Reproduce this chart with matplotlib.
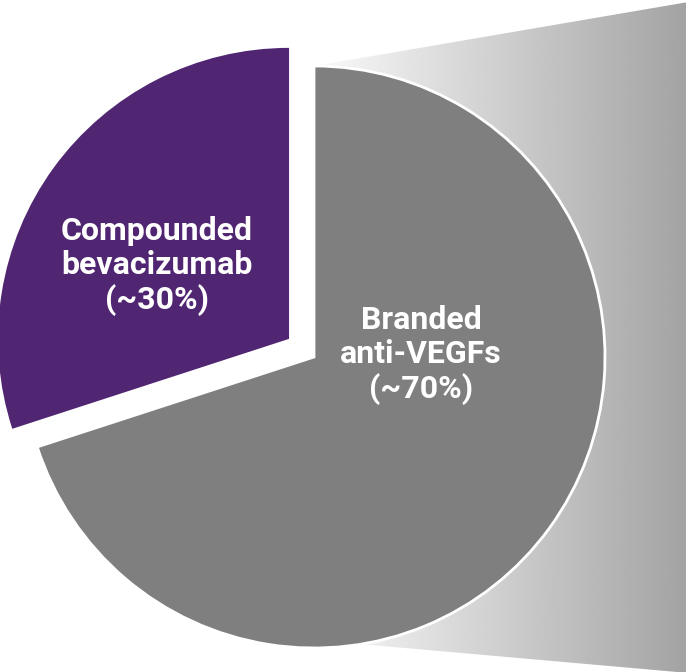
import matplotlib
matplotlib.use("Agg")
import matplotlib.pyplot as plt
import numpy as np
from matplotlib.patches import Polygon

# Chart data
labels = ["Branded\nanti-VEGFs\n(~70%)", "Compounded\nbevacizumab\n(~30%)"]
shares = [70, 30]
colors = ["#7f7f7f", "#502672"]
explode = [0, 0.106]

# work in units of the pie radius (291 px)
R = 291.0
W, H = 686, 672


def px(x, y):
    # image pixel coordinates -> data coordinates
    return x / R, (H - y) / R


fig = plt.figure(figsize=(W / 100, H / 100), dpi=100)
ax = fig.add_axes([0, 0, 1, 1])
ax.set_xlim(0, W / R)
ax.set_ylim(0, H / R)
ax.axis("off")

# grey gradient "callout" behind the pie
poly_pts = [px(314, 66), px(700, 0), px(700, 674), px(314, 640)]
poly = Polygon(poly_pts, closed=True, facecolor="none", edgecolor="none")
ax.add_patch(poly)
grad = np.linspace(250, 160, 256)[None, :] / 255.0
x0, y0 = px(314, 672)
x1, y1 = px(700, 0)
img = ax.imshow(grad, cmap="gray", vmin=0, vmax=1, aspect="auto",
                extent=[x0, x1, y0, y1], zorder=1)
img.set_clip_path(poly)

cx, cy = px(314, 357)
wedges, _ = ax.pie(shares, startangle=90, counterclock=False, radius=1.0,
                   center=(cx, cy), explode=explode, colors=colors,
                   wedgeprops=dict(linewidth=0))
for w in wedges:
    w.set_zorder(3)
wedges[0].set_edgecolor("white")
wedges[0].set_linewidth(2.0)

ax.set_xlim(0, W / R)
ax.set_ylim(0, H / R)
ax.set_aspect("auto")

text_pos = [px(421, 355), px(157, 266)]
for lab, (tx, ty) in zip(labels, text_pos):
    ax.text(tx, ty, lab, ha="center", va="center", color="white",
            fontsize=23, fontweight="bold", family="Roboto",
            linespacing=1.17, zorder=5)

fig.savefig("out.png", dpi=100)
